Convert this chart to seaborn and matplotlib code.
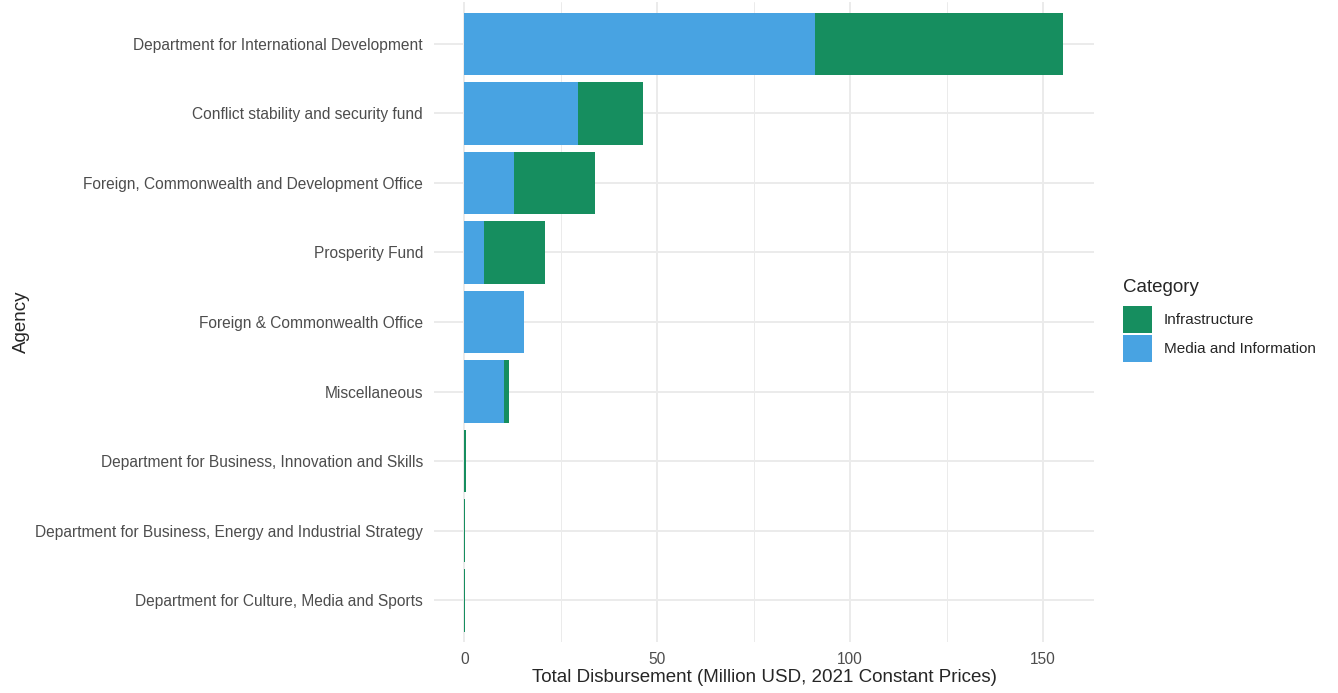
import seaborn as sns
import matplotlib.pyplot as plt
import pandas as pd
from matplotlib.patches import Patch
from matplotlib.ticker import MultipleLocator

agencies = [
    "Department for International Development",
    "Conflict stability and security fund",
    "Foreign, Commonwealth and Development Office",
    "Prosperity Fund",
    "Foreign & Commonwealth Office",
    "Miscellaneous",
    "Department for Business, Innovation and Skills",
    "Department for Business, Energy and Industrial Strategy",
    "Department for Culture, Media and Sports",
]
media_info = [91.0, 29.5, 12.9, 5.1, 15.5, 10.2, 0.0, 0.0, 0.0]
infrastructure = [64.2, 16.7, 21.1, 15.8, 0.0, 1.4, 0.35, 0.15, 0.12]

blue = "#48A3E2"
green = "#168E5F"

df = pd.DataFrame({"Agency": agencies, "media": media_info, "infra": infrastructure})
df["total"] = df["media"] + df["infra"]

sns.set_style("whitegrid")
plt.rcParams["font.family"] = ["Liberation Sans", "DejaVu Sans"]

fig = plt.figure(figsize=(13.38, 6.93), dpi=100)
ax = fig.add_axes([0.3245, 0.0736, 0.4935, 0.9234])

# stacked: draw total in green, then media on top in blue
sns.barplot(data=df, x="total", y="Agency", order=agencies, color=green, width=0.9,
            saturation=1, ax=ax, edgecolor="none")
sns.barplot(data=df, x="media", y="Agency", order=agencies, color=blue, width=0.9,
            saturation=1, ax=ax, edgecolor="none")

ax.set_xlim(-7.8, 163.3)
ax.set_ylim(len(agencies) - 0.4, -0.6)
ax.xaxis.set_major_locator(MultipleLocator(50))
ax.xaxis.set_minor_locator(MultipleLocator(25))
ax.grid(which="major", color="#EBEBEB", linewidth=1.4)
ax.grid(which="minor", axis="x", color="#EBEBEB", linewidth=0.7)
ax.set_axisbelow(True)
for s in ax.spines.values():
    s.set_visible(False)
ax.tick_params(axis="both", which="both", length=0, colors="#4D4D4D", labelsize=11.2)
ax.tick_params(axis="x", pad=7)
ax.tick_params(axis="y", pad=8)
ax.set_xlabel("Total Disbursement (Million USD, 2021 Constant Prices)", fontsize=13.5, labelpad=2)
ax.set_ylabel("Agency", fontsize=13.5, labelpad=4)

# legend: title as separate text so the gap below it matches
fig.text(0.8393, 1 - 287 / 693, "Category", fontsize=13.5, va="center", ha="left")
handles = [Patch(facecolor=green, edgecolor="none", label="Infrastructure"),
           Patch(facecolor=blue, edgecolor="none", label="Media and Information")]
fig.legend(handles=handles, loc="upper left",
           bbox_to_anchor=(0.8395, 1 - 306 / 693), frameon=False, fontsize=11,
           handlelength=1.9, handleheight=2.35, borderpad=0,
           labelspacing=0.12, handletextpad=0.75, borderaxespad=0)

fig.savefig("out.png", dpi=100)
